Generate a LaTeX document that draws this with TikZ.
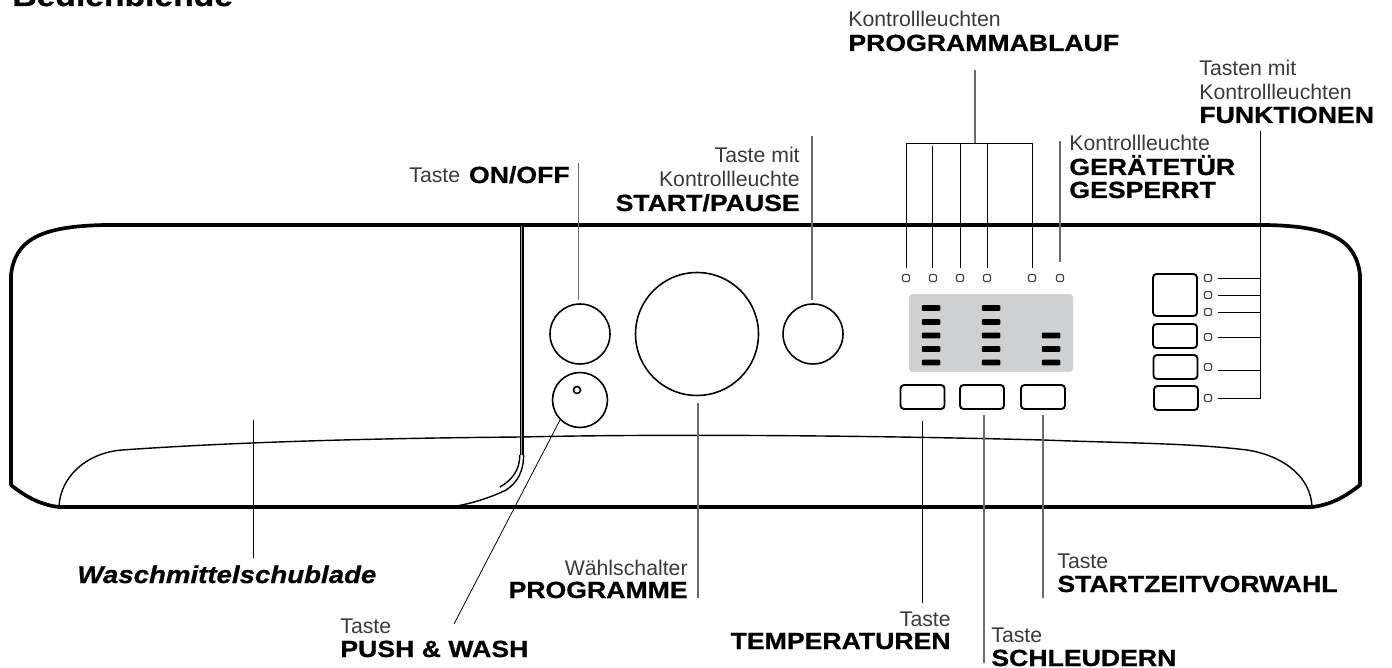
\documentclass[tikz,border=0pt]{standalone}
\usepackage{fontspec}
\setmainfont{Liberation Sans}
\newfontfamily\headfont[FakeStretch=1.14,BoldFeatures={FakeBold=0.8},BoldItalicFeatures={FakeBold=0.8}]{Liberation Sans}
\definecolor{lightink}{HTML}{3A3A3A}
\definecolor{panelgray}{HTML}{CFD0D2}
\definecolor{leadgray}{HTML}{6A6A6A}
\tikzset{
  panelline/.style={line width=2.1pt,line join=round},
  thinline/.style={line width=0.8pt},
  leader/.style={leadgray,line width=0.65pt},
  thinleader/.style={black,line width=0.45pt},
  knob/.style={circle,draw,line width=0.9pt,inner sep=0pt},
  btn/.style={rectangle,draw,line width=1.1pt,rounded corners=2pt,inner sep=0pt,minimum width=0.88cm,minimum height=0.48cm},
  led/.style={rectangle,draw=black!75,line width=0.6pt,rounded corners=0.8pt,inner sep=0pt,minimum size=0.14cm},
  seg/.style={rectangle,fill=black,rounded corners=0.6pt,inner sep=0pt,minimum width=0.37cm,minimum height=0.115cm},
  thintext/.style={inner sep=0pt,text=lightink,font=\fontsize{12.1}{14}\selectfont},
  headtext/.style={inner sep=0pt,text=black,font=\headfont\bfseries\fontsize{13.3}{15}\selectfont}
}
\begin{document}
\begin{tikzpicture}[x=0.02cm,y=-0.02cm]
\useasboundingbox (0,0) rectangle (1392,668);

% panel outline
\draw[panelline] (106,225) -- (1265,225) .. controls (1331,226) and (1356,240) .. (1360,275)
  -- (1360,485) .. controls (1345,497) and (1330,505) .. (1312,507) -- (59,507)
  .. controls (41,505) and (26,497) .. (11,485) -- (11,275)
  .. controls (15,240) and (40,226) .. (106,225) -- cycle;
\draw[thinline] (59,507) .. controls (60,478) and (85,453) .. (122,450)
  .. controls (250,441) and (400,438) .. (522,437) .. controls (650,434) and (850,435) .. (1043,440)
  .. controls (1120,443) and (1190,443) .. (1247,450) .. controls (1285,456) and (1311,478) .. (1312,507);

% drawer edge
\draw[black,line width=2.2pt] (521.7,225) -- (521.7,455);
\draw[panelgray!70!black,line width=0.9pt] (521.7,226) -- (521.7,455);
\draw[thinline] (523.6,455) .. controls (523.6,472) and (517,483) .. (506,490) .. controls (490,498) and (470,504) .. (451,507);
\draw[thinline] (519.8,455) .. controls (519.8,470) and (512,480) .. (500,487);

% knobs
\node[knob,minimum size=1.2cm] (onoff) at (580,334) {};
\node[knob,minimum size=1.1cm] (pushwash) at (580,400) {};
\node[knob,minimum size=0.14cm] (pushdot) at (577,390) {};
\node[knob,minimum size=2.46cm] (selector) at (697,334) {};
\node[knob,minimum size=1.2cm] (startpause) at (813,334) {};

% display
\node[rectangle,fill=panelgray,rounded corners=2pt,inner sep=0pt,minimum width=3.28cm,minimum height=1.56cm] (display) at (991,333) {};
\foreach \r/\y in {1/308,2/322,3/335.5,4/349,5/362.5} {
  \node[seg] (segA\r) at (931,\y) {};
  \node[seg] (segB\r) at (991,\y) {};
}
\foreach \r/\y in {3/335.5,4/349,5/362.5}
  \node[seg] (segC\r) at (1051,\y) {};

% keys
\node[btn] (temp) at (922.5,397) {};
\node[btn] (spin) at (982,397) {};
\node[btn] (delay) at (1043,397) {};
\node[btn,minimum height=0.84cm] (funcA) at (1175,295) {};
\node[btn] (funcB) at (1175,336) {};
\node[btn] (funcC) at (1175.5,367) {};
\node[btn] (funcD) at (1176,398) {};

% lamps
\foreach \n/\x in {A/906,B/933,C/960,D/987,E/1032,F/1060}
  \node[led] (lamp\n) at (\x,278) {};
\foreach \n/\y in {A/278,B/295,C/312,D/337,E/367,F/398}
  \node[led] (side\n) at (1208,\y) {};

% leader points
\coordinate (progtop) at (975,70);
\coordinate (progjoin) at (975,143);
\coordinate (progleft) at (906,143);
\coordinate (progright) at (1032,143);
\coordinate (progB) at (932.5,146);
\coordinate (progC) at (960.5,143);
\coordinate (progD) at (987,143);
\coordinate (doortop) at (1060,141);
\coordinate (functop) at (1260.5,131);
\coordinate (funcA2) at (1260.5,278);
\coordinate (funcB2) at (1260.5,295);
\coordinate (funcC2) at (1260.5,312);
\coordinate (funcD2) at (1260.5,337);
\coordinate (funcE2) at (1260.5,370);
\coordinate (funcF2) at (1260.5,398);
\coordinate (onofftop) at (578.5,163);
\coordinate (starttop) at (812,136);
\coordinate (drawertop) at (253,420);
\coordinate (drawerend) at (253,558);
\coordinate (pushend) at (454,624);
\coordinate (selend) at (698,598);
\coordinate (tempend) at (922.5,603);
\coordinate (spinend) at (984,663);
\coordinate (delayend) at (1043,598);

% leaders
\draw[leader] (progtop) -- (progjoin);
\draw[thinleader] (progleft) -- (progright);
\foreach \n/\c in {A/progleft,B/progB,C/progC,D/progD,E/progright}
  \draw[thinleader,shorten >=3.5pt] (\c) -- (\c |- lamp\n.north);
\draw[leader,shorten >=7pt] (doortop) -- (lampF.north);
\draw[thinleader] (functop) -- (funcF2);
\foreach \n in {A,B,C,D,F}
  \draw[thinleader,shorten <=3.5pt] (side\n.east) -- (func\n2);
\draw[thinleader,shorten <=3.5pt] (sideE.east |- funcE2) -- (funcE2);
\draw[leader,shorten >=2pt] (onofftop) -- (onofftop |- onoff.north);
\draw[leader,shorten >=2pt] (starttop) -- (starttop |- startpause.north);
\draw[thinleader] (drawertop) -- (drawerend);
\draw[thinleader] (pushwash.south west) -- (pushend);
\draw[leader,shorten <=4pt] (selector.south -| selend) -- (selend);
\draw[thinleader,shorten <=6pt] (temp.south) -- (tempend);
\draw[leader,shorten <=3pt] (spin.south -| spinend) -- (spinend);
\draw[leader,shorten <=3pt] (delay.south) -- (delayend);

% labels
\node[headtext,anchor=base west,font=\headfont\bfseries\fontsize{16.8}{20}\selectfont] (title) at (12,6) {Bedienblende};
\node[thintext,anchor=base west] (progsmall) at (848,27) {Kontrollleuchten};
\node[headtext,anchor=base west] (progbig) at (848,51) {PROGRAMMABLAUF};
\node[thintext,anchor=base west] (funcsmallA) at (1199,76) {Tasten mit};
\node[thintext,anchor=base west] (funcsmallB) at (1199,100) {Kontrollleuchten};
\node[headtext,anchor=base west] (funcbig) at (1199,123) {FUNKTIONEN};
\node[thintext,anchor=base west] (doorsmall) at (1069,151) {Kontrollleuchte};
\node[headtext,anchor=base west] (doorbigA) at (1069,175) {GERÄTETÜR};
\node[headtext,anchor=base west] (doorbigB) at (1069,198) {GESPERRT};
\node[thintext,anchor=base west] (onoffsmall) at (409,183) {Taste};
\node[headtext,anchor=base east] (onoffbig) at (570,183) {ON/OFF};
\node[thintext,anchor=base east] (startsmallA) at (800,163) {Taste mit};
\node[thintext,anchor=base east] (startsmallB) at (800,187) {Kontrollleuchte};
\node[headtext,anchor=base east] (startbig) at (800,211) {START/PAUSE};
\node[headtext,anchor=base west,font=\headfont\bfseries\itshape\fontsize{13.8}{15}\selectfont] (drawerlabel) at (77,583) {Waschmittelschublade};
\node[thintext,anchor=base east] (selsmall) at (688,575) {Wählschalter};
\node[headtext,anchor=base east] (selbig) at (688,598) {PROGRAMME};
\node[thintext,anchor=base west] (pushsmall) at (340,633) {Taste};
\node[headtext,anchor=base west] (pushbig) at (340,657) {PUSH \& WASH};
\node[thintext,anchor=base east] (tempsmall) at (951,626) {Taste};
\node[headtext,anchor=base east] (tempbig) at (951,649) {TEMPERATUREN};
\node[thintext,anchor=base west] (spinsmall) at (991,642) {Taste};
\node[headtext,anchor=base west] (spinbig) at (991,666) {SCHLEUDERN};
\node[thintext,anchor=base west] (delaysmall) at (1057,568) {Taste};
\node[headtext,anchor=base west] (delaybig) at (1057,592) {STARTZEITVORWAHL};
\end{tikzpicture}
\end{document}
